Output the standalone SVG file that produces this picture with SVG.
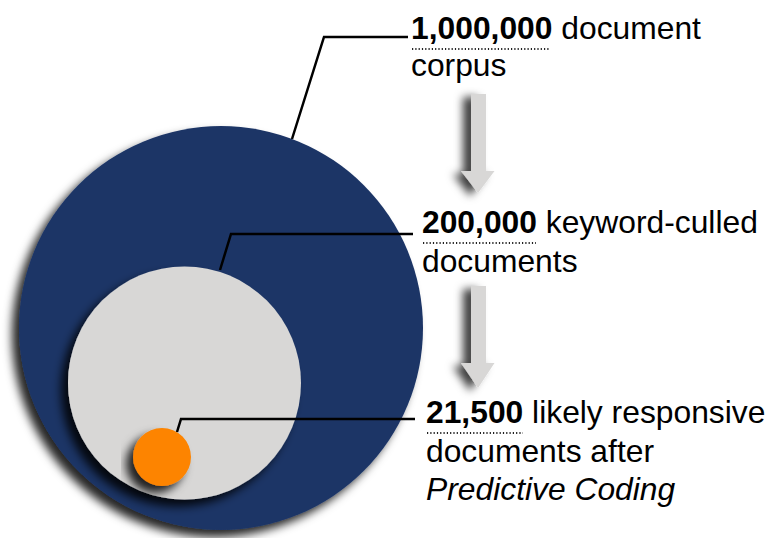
<svg xmlns="http://www.w3.org/2000/svg" width="781" height="538" viewBox="0 0 781 538">
<defs>
<filter id="sh" x="-20%" y="-20%" width="140%" height="140%">
<feGaussianBlur in="SourceAlpha" stdDeviation="5"/>
<feOffset dx="-7" dy="7" result="b"/>
<feFlood flood-color="#000" flood-opacity="0.85"/>
<feComposite in2="b" operator="in"/>
<feMerge><feMergeNode/><feMergeNode in="SourceGraphic"/></feMerge>
</filter>
<filter id="sha" x="-80%" y="-20%" width="260%" height="140%">
<feGaussianBlur in="SourceAlpha" stdDeviation="4"/>
<feOffset dx="-8" dy="3" result="b"/>
<feFlood flood-color="#000" flood-opacity="0.75"/>
<feComposite in2="b" operator="in"/>
<feMerge><feMergeNode/><feMergeNode in="SourceGraphic"/></feMerge>
</filter>
</defs>
<style>
text{font-family:"Liberation Sans",Arial,sans-serif;font-size:31.8px;fill:#000}
.b{font-weight:bold}
.i{font-style:italic}
.lead{fill:none;stroke:#000;stroke-width:2.5}
.dot{fill:none;stroke:#222;stroke-width:2;stroke-dasharray:1.2 2.1}
.arrow{fill:#d8d7d6}
</style>
<rect width="781" height="538" fill="#fff"/>
<g id="corpus-circle"><circle cx="221" cy="328" r="202" fill="#1c3566" filter="url(#sh)"/></g>
<g id="culled-circle"><circle cx="184.5" cy="383" r="116.5" fill="#d8d7d6" filter="url(#sh)"/></g>
<g id="responsive-circle"><circle cx="162" cy="457" r="29" fill="#fd8400" filter="url(#sh)"/></g>
<g id="connectors">
<polyline class="lead" points="292,139 324,37 408,37"/>
<polyline class="lead" points="220,270 231,234 413,234"/>
<polyline class="lead" points="177,432 181,419 415,419"/>
</g>
<g id="arrows">
<path class="arrow" filter="url(#sha)" d="M471,94 H486 V171 H494.5 L478,193 L461,171 H471 Z"/>
<path class="arrow" filter="url(#sha)" d="M471,286 H486 V363 H494.5 L478,388 L461,363 H471 Z"/>
</g>
<g id="label-1">
<text x="411" y="39"><tspan class="b">1,000,000</tspan> document</text>
<text x="411" y="76">corpus</text>
<line class="dot" x1="412" y1="49" x2="549" y2="49"/>
</g>
<g id="label-2">
<text x="422" y="233"><tspan class="b">200,000</tspan> keyword-culled</text>
<text x="422" y="272">documents</text>
<line class="dot" x1="423" y1="243" x2="536" y2="243"/>
</g>
<g id="label-3">
<text x="426" y="423"><tspan class="b">21,500</tspan> likely responsive</text>
<text x="426" y="462">documents after</text>
<text x="426" y="500" class="i">Predictive Coding</text>
<line class="dot" x1="427" y1="433" x2="523" y2="433"/>
</g>
</svg>
